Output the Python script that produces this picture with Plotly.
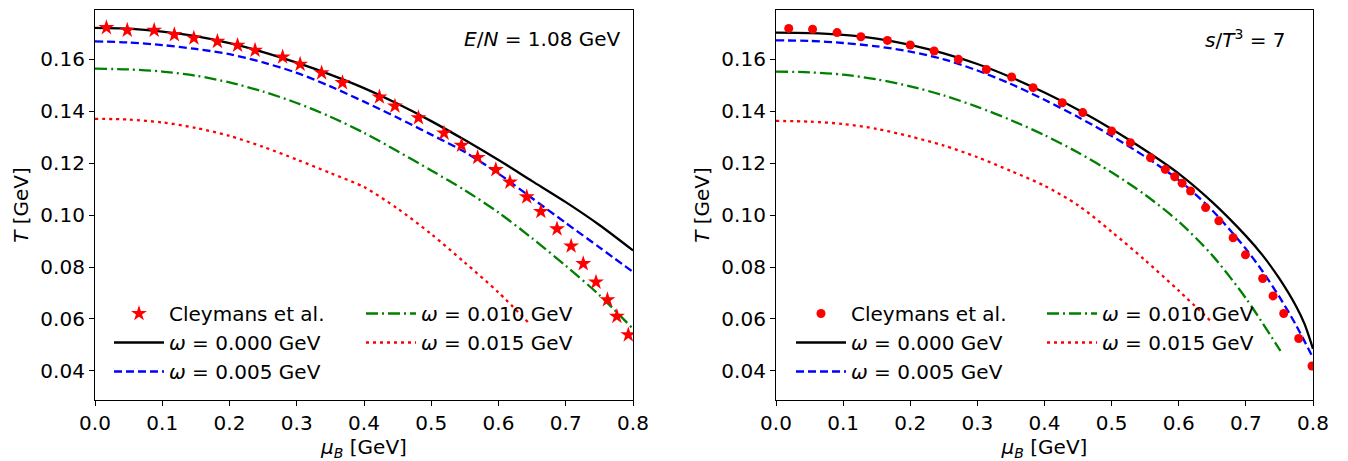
import plotly.graph_objects as go

# ---------------- Left panel: E/N = 1.08 GeV ----------------
mu_star_L = [0.017, 0.048, 0.088, 0.118, 0.147, 0.182, 0.212, 0.238, 0.279, 0.305, 0.337, 0.368,
             0.423, 0.446, 0.481, 0.519, 0.545, 0.569, 0.596, 0.617, 0.642, 0.663, 0.687, 0.708,
             0.726, 0.745, 0.762, 0.776, 0.793]
T_star_L = [0.1722, 0.1712, 0.1712, 0.1695, 0.1682, 0.1669, 0.1654, 0.1635, 0.1609, 0.1581, 0.1548, 0.1510,
            0.1455, 0.1420, 0.1375, 0.1316, 0.1269, 0.1222, 0.1175, 0.1127, 0.1070, 0.1014, 0.0947, 0.0881,
            0.0813, 0.0742, 0.0674, 0.0610, 0.0539]

mu_grid = [0.00, 0.05, 0.10, 0.15, 0.20, 0.25, 0.30, 0.35, 0.40, 0.45, 0.50, 0.55, 0.60, 0.65,
           0.70, 0.75, 0.80]

T_w0_L = [0.1721, 0.1718, 0.1707, 0.1689, 0.1662, 0.1628, 0.1587, 0.1541, 0.1489, 0.1429, 0.1362,
          0.1289, 0.1212, 0.1131, 0.1050, 0.0962, 0.0864]
T_w5_L = [0.1669, 0.1665, 0.1655, 0.1640, 0.1620, 0.1588, 0.1548, 0.1496, 0.1437, 0.1375, 0.1310,
          0.1243, 0.1160, 0.1065, 0.0970, 0.0876, 0.0781]
T_w10_L = [0.1564, 0.1561, 0.1553, 0.1537, 0.1511, 0.1476, 0.1432, 0.1379, 0.1317, 0.1246, 0.1172,
           0.1096, 0.1010, 0.0911, 0.0805, 0.0692, 0.0562]
mu_w15_L = [0.00, 0.05, 0.10, 0.15, 0.20, 0.25, 0.30, 0.35, 0.40, 0.45, 0.50, 0.55, 0.60, 0.646]
T_w15_L = [0.1371, 0.1368, 0.1357, 0.1336, 0.1305, 0.1263, 0.1214, 0.1162, 0.1108, 0.1025, 0.0927,
           0.0817, 0.0702, 0.0582]

# ---------------- Right panel: s/T^3 = 7 ----------------
mu_dot_R = [0.019, 0.0545, 0.091, 0.1265, 0.166, 0.200, 0.2356, 0.2718, 0.3134, 0.351, 0.383,
            0.4265, 0.457, 0.500, 0.528, 0.558, 0.580, 0.594, 0.605, 0.6176,
            0.640, 0.6597, 0.681, 0.6994, 0.725, 0.7405, 0.7564, 0.7787, 0.7985]
T_dot_R = [0.1719, 0.1716, 0.1703, 0.1687, 0.1673, 0.1655, 0.1632, 0.1600, 0.1561, 0.1532, 0.1491,
           0.1433, 0.1395, 0.1324, 0.1279, 0.1221, 0.1176, 0.1148, 0.1123, 0.1093,
           0.1029, 0.0978, 0.0913, 0.0847, 0.0756, 0.0689, 0.0621, 0.0525, 0.0419]

mu_w0_R = [0.00, 0.05, 0.10, 0.15, 0.20, 0.25, 0.30, 0.35, 0.40, 0.45, 0.50, 0.55, 0.60, 0.65,
           0.70, 0.725, 0.75, 0.775, 0.7875, 0.80]
T_w0_R = [0.1703, 0.1701, 0.1694, 0.1680, 0.1656, 0.1623, 0.1582, 0.1531, 0.1472, 0.1406, 0.1332,
          0.1250, 0.1160, 0.1050, 0.0920, 0.0845, 0.0755, 0.0648, 0.0580, 0.0485]
mu_w5_R = [0.00, 0.05, 0.10, 0.15, 0.20, 0.25, 0.30, 0.35, 0.40, 0.45, 0.50, 0.55, 0.60, 0.65,
           0.70, 0.725, 0.75, 0.775, 0.80]
T_w5_R = [0.1673, 0.1671, 0.1663, 0.1650, 0.1630, 0.1600, 0.1557, 0.1505, 0.1444, 0.1378, 0.1305,
          0.1225, 0.1135, 0.1018, 0.0870, 0.0783, 0.0685, 0.0575, 0.0450]
mu_w10_R = [0.00, 0.05, 0.10, 0.15, 0.20, 0.25, 0.30, 0.35, 0.40, 0.45, 0.50, 0.55, 0.60, 0.65,
            0.70, 0.7515]
T_w10_R = [0.1553, 0.1550, 0.1541, 0.1523, 0.1496, 0.1461, 0.1417, 0.1366, 0.1308, 0.1241, 0.1165,
           0.1078, 0.0975, 0.0845, 0.0680, 0.0477]
mu_w15_R = [0.00, 0.05, 0.10, 0.15, 0.20, 0.25, 0.30, 0.35, 0.40, 0.45, 0.50, 0.55, 0.60, 0.65]
T_w15_R = [0.1363, 0.1360, 0.1351, 0.1332, 0.1303, 0.1268, 0.1223, 0.1170, 0.1113, 0.1038, 0.0936,
           0.0826, 0.0709, 0.0586]

x_ticks = [0.0, 0.1, 0.2, 0.3, 0.4, 0.5, 0.6, 0.7, 0.8]
y_ticks = [0.04, 0.06, 0.08, 0.10, 0.12, 0.14, 0.16]

labels = ["Cleymans et al.", "<i>ω</i> = 0.000 GeV", "<i>ω</i> = 0.005 GeV",
          "<i>ω</i> = 0.010 GeV", "<i>ω</i> = 0.015 GeV"]

FONT = "DejaVu Sans"
OFF = 8                      # page body margin of the html page
W, H = 1348 - OFF, 461 - OFF

def fx(p):                   # window pixel -> paper fraction (x)
    return (p - OFF) / W

def fy(p):                   # window pixel -> paper fraction (y)
    return 1 - (p - OFF) / H

fig = go.Figure()

def add_panel(xa, ya, leg1, leg2, mu_pts, T_pts, sym, msize, curves):
    styles = [("black", "solid"), ("blue", "8px,4px"), ("green", "12px,4px,2px,4px"), ("red", "3px,4px")]
    for i, ((mu, T), (col, dash)) in enumerate(zip(curves, styles)):
        fig.add_trace(go.Scatter(
            x=mu, y=T, mode="lines", name=labels[i + 1],
            line=dict(color=col, dash=dash, width=2.3, shape="spline", smoothing=0.8),
            xaxis=xa, yaxis=ya, legend=leg1 if i < 2 else leg2,
            legendrank=i + 2))
    fig.add_trace(go.Scatter(
        x=mu_pts, y=T_pts, mode="markers", name=labels[0],
        marker=dict(symbol=sym, size=msize, color="red", line=dict(width=0)),
        xaxis=xa, yaxis=ya, legend=leg1, legendrank=1))

add_panel("x", "y", "legend", "legend2", mu_star_L, T_star_L, "star", 12,
          [(mu_grid, T_w0_L), (mu_grid, T_w5_L), (mu_grid, T_w10_L), (mu_w15_L, T_w15_L)])
add_panel("x2", "y2", "legend3", "legend4", mu_dot_R, T_dot_R, "circle", 9,
          [(mu_w0_R, T_w0_R), (mu_w5_R, T_w5_R), (mu_w10_R, T_w10_R), (mu_w15_R, T_w15_R)])

axis_common = dict(showline=True, linecolor="black", linewidth=1.2, mirror=True,
                   ticks="outside", ticklen=5, tickwidth=1.2, tickcolor="black",
                   showgrid=False, zeroline=False, automargin=False,
                   tickfont=dict(family=FONT, size=20, color="black"))

ydom = [fy(400), fy(10)]
yr = [0.0288, 0.1790]

def xaxis_def(dom, anchor):
    return dict(domain=dom, range=[0, 0.8], tickvals=x_ticks,
                ticktext=[f"{v:.1f}" for v in x_ticks],
                title=dict(text="<i>μ<sub>B</sub></i> [GeV]", standoff=4,
                           font=dict(family=FONT, size=20)), anchor=anchor, **axis_common)

def yaxis_def(anchor):
    return dict(domain=ydom, range=yr, tickvals=y_ticks,
                ticktext=[f"{v:.2f}" for v in y_ticks],
                title=dict(text="<i>T</i> [GeV]", standoff=6,
                           font=dict(family=FONT, size=20)), anchor=anchor, **axis_common)

fig.update_layout(
    width=W, height=H, margin=dict(l=0, r=0, t=0, b=0, autoexpand=False),
    paper_bgcolor="white", plot_bgcolor="white",
    font=dict(family=FONT, size=20, color="black"),
    xaxis=xaxis_def([fx(95), fx(633)], "y"),
    yaxis=yaxis_def("x"),
    xaxis2=xaxis_def([fx(776), fx(1313)], "y2"),
    yaxis2=yaxis_def("x2"),
    showlegend=True,
)

leg_common = dict(bgcolor="rgba(0,0,0,0)", borderwidth=0, xanchor="left", yanchor="top",
                  font=dict(family=FONT, size=20, color="black"), itemwidth=50,
                  traceorder="normal", tracegroupgap=0)
leg_top = fy(294)
fig.update_layout(
    legend=dict(x=fx(109), y=leg_top, **leg_common),
    legend2=dict(x=fx(361), y=leg_top, **leg_common),
    legend3=dict(x=fx(791), y=leg_top, **leg_common),
    legend4=dict(x=fx(1042), y=leg_top, **leg_common),
)

fig.add_annotation(text="<i>E</i>/<i>N</i> = 1.08 GeV", xref="paper", yref="paper",
                   x=fx(623), y=fy(39), xanchor="right", yanchor="middle",
                   showarrow=False, font=dict(family=FONT, size=20, color="black"))
fig.add_annotation(text="<i>s</i>/<i>T</i><sup>3</sup> = 7", xref="paper", yref="paper",
                   x=fx(1288), y=fy(39), xanchor="right", yanchor="middle",
                   showarrow=False, font=dict(family=FONT, size=20, color="black"))

fig.write_html("out.html")
